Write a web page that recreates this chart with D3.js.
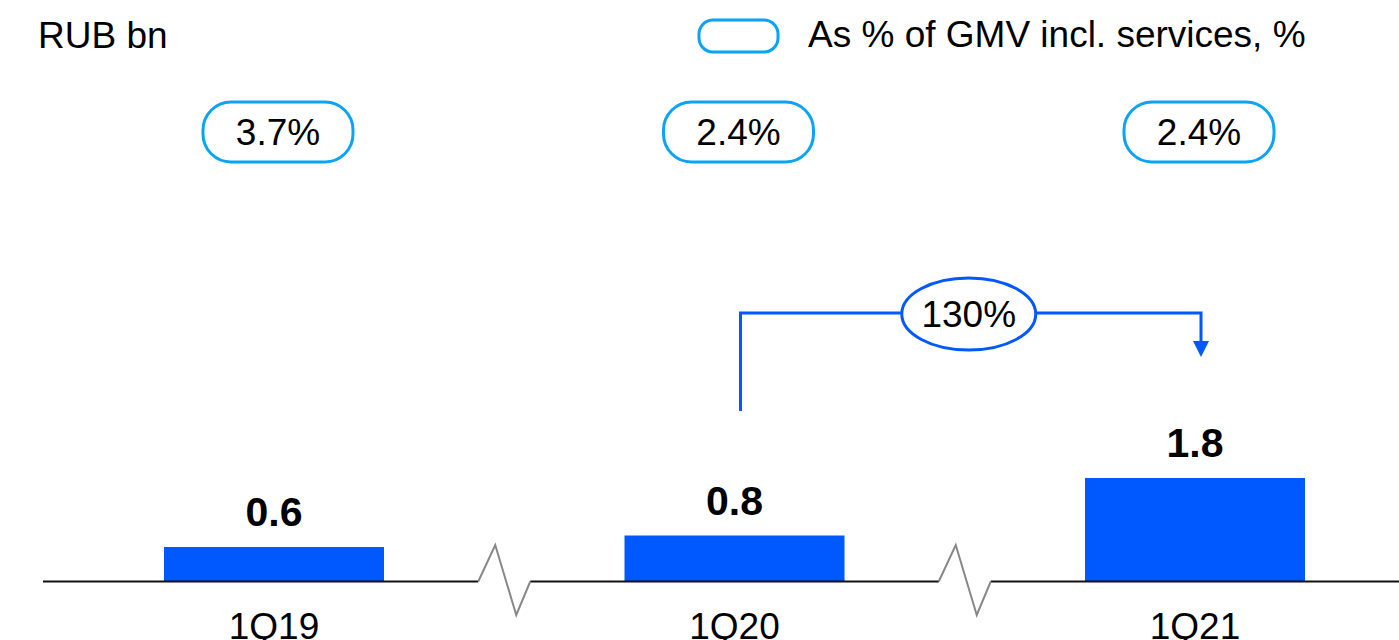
<!DOCTYPE html>
<html>
<head>
<meta charset="utf-8">
<script src="https://cdn.jsdelivr.net/npm/d3@7"></script>
<style>
  html, body { margin: 0; padding: 0; background: #fff; }
  svg { display: block; font-family: "Liberation Sans", Arial, sans-serif; }
</style>
</head>
<body>
<div id="chart"></div>
<script>
// RUB bn per quarter, with share of GMV incl. services in the bubbles
const quarters = ['1Q19', '1Q20', '1Q21'];
const values = [0.6, 0.8, 1.8];
const shareOfGmv = [3.7, 2.4, 2.4];
const growthLabel = '130%';
const unitLabel = 'RUB bn';
const legendLabel = 'As % of GMV incl. services, %';

const width = 1399, height = 640;
const blue = '#0058ff';
const lightBlue = '#0aa3f5';
const baseY = 581.5;
const fs = '37px';

const svg = d3.select('#chart').append('svg')
  .attr('width', width).attr('height', height);

const x = d3.scalePoint().domain(quarters).range([274, 1195]);
const y = d3.scaleLinear().domain([0, 1.8]).range([baseY, 478]);
const barW = 220;

// header
svg.append('text').attr('x', 38).attr('y', 48)
  .attr('font-size', fs).attr('fill', '#000').text(unitLabel);

svg.append('rect').attr('x', 699).attr('y', 20).attr('width', 79).attr('height', 32)
  .attr('rx', 14).attr('fill', '#fff').attr('stroke', lightBlue).attr('stroke-width', 3);
svg.append('text').attr('x', 808).attr('y', 47)
  .attr('font-size', fs).attr('fill', '#000').text(legendLabel);

// share bubbles
const bub = svg.selectAll('.share').data(quarters).join('g').attr('class', 'share')
  .attr('transform', d => `translate(${x(d) + 4},132)`);
bub.append('rect').attr('x', -75).attr('y', -30).attr('width', 150).attr('height', 60)
  .attr('rx', 28).attr('fill', '#fff').attr('stroke', lightBlue).attr('stroke-width', 3);
bub.append('text').attr('y', 13).attr('text-anchor', 'middle')
  .attr('font-size', fs).attr('fill', '#000')
  .text((d, i) => shareOfGmv[i].toFixed(1) + '%');

// bars
svg.selectAll('.bar').data(quarters).join('rect').attr('class', 'bar')
  .attr('x', d => x(d) - barW / 2).attr('width', barW)
  .attr('y', (d, i) => y(values[i])).attr('height', (d, i) => baseY - y(values[i]))
  .attr('fill', blue);

svg.selectAll('.val').data(quarters).join('text').attr('class', 'val')
  .attr('x', d => x(d)).attr('y', (d, i) => y(values[i]) - 21)
  .attr('text-anchor', 'middle').attr('font-size', '41px').attr('font-weight', 'bold')
  .attr('fill', '#000').text((d, i) => values[i].toFixed(1));

// axis line with breaks between quarters
const mids = d3.pairs(quarters).map(([a, b]) => (x(a) + x(b)) / 2);
const segs = [];
let start = 43;
mids.forEach(m => { segs.push([start, m - 26]); start = m + 26; });
segs.push([start, width]);
svg.selectAll('.axis-seg').data(segs).join('line').attr('class', 'axis-seg')
  .attr('x1', d => d[0]).attr('x2', d => d[1]).attr('y1', baseY).attr('y2', baseY)
  .attr('stroke', '#111').attr('stroke-width', 2);
svg.selectAll('.brk').data(mids).join('polyline').attr('class', 'brk')
  .attr('points', m => [[m - 26, baseY], [m - 9, 545], [m + 12, 615], [m + 26, baseY]].join(' '))
  .attr('fill', 'none').attr('stroke', '#888').attr('stroke-width', 2);

// quarter labels sit at the bottom edge, partly cut as in the source slide
svg.selectAll('.cat').data(quarters).join('text').attr('class', 'cat')
  .attr('x', d => x(d)).attr('y', 639).attr('text-anchor', 'middle')
  .attr('font-size', fs).attr('fill', '#000').text(d => d);

// growth bracket 1Q20 -> 1Q21
const gx1 = x('1Q20') + 6, gx2 = x('1Q21') + 6, gy = 313;
svg.append('path')
  .attr('d', `M${gx1},411 V${gy} H${gx2} V343`)
  .attr('fill', 'none').attr('stroke', blue).attr('stroke-width', 3);
svg.append('path')
  .attr('d', `M${gx2 - 8},341 L${gx2 + 8},341 L${gx2},357 Z`).attr('fill', blue);
const gcx = (gx1 + gx2) / 2 - 2;
svg.append('ellipse').attr('cx', gcx).attr('cy', 314).attr('rx', 67).attr('ry', 36)
  .attr('fill', '#fff').attr('stroke', blue).attr('stroke-width', 3);
svg.append('text').attr('x', gcx).attr('y', 327).attr('text-anchor', 'middle')
  .attr('font-size', fs).attr('fill', '#000').text(growthLabel);
</script>
</body>
</html>
